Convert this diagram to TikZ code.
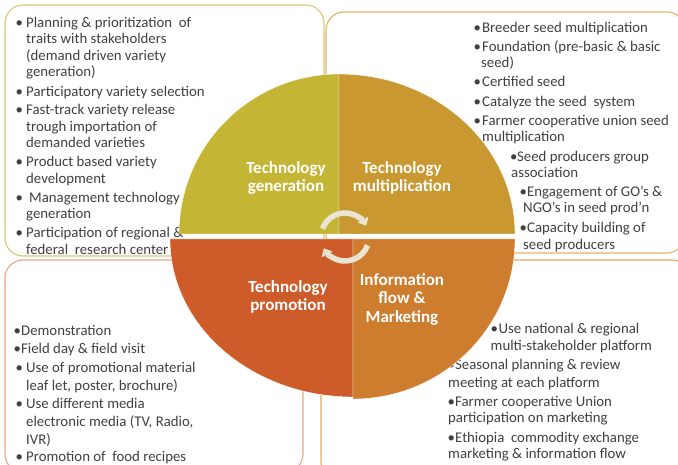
\documentclass[tikz,border=0pt]{standalone}
\usepackage{fontspec}
\setmainfont{Carlito}
\usepackage{tikz}
\usetikzlibrary{arrows.meta}

\definecolor{gencol}{HTML}{C5B535}
\definecolor{multcol}{HTML}{C99830}
\definecolor{promcol}{HTML}{CD5C2A}
\definecolor{infocol}{HTML}{CE7C2D}
\definecolor{genline}{HTML}{D8C977}
\definecolor{multline}{HTML}{E2B565}
\definecolor{promline}{HTML}{ECA486}
\definecolor{infoline}{HTML}{E8AA66}
\definecolor{turncol}{HTML}{E9E5D0}
\definecolor{textcol}{HTML}{404040}

\newcommand{\blt}[1][10.5pt]{\makebox[#1][l]{•}}

\begin{document}
\begin{tikzpicture}[x=1pt,y=-1pt,
    box/.style={rounded corners=18pt,line width=1.1pt},
    item/.style={anchor=base west,inner sep=0pt,text=textcol,font=\fontsize{14.8}{17}\selectfont},
    stage/.style={align=center,text=white,font=\fontsize{17}{18.5}\selectfont\bfseries},
    turn/.style={draw=turncol,line width=5.5pt,-{Triangle[length=7pt,width=12pt]}}]
    \useasboundingbox (0,0) rectangle (678,465);
    \clip (0,0) rectangle (678,465);
    \fill[white] (0,0) rectangle (678,465);

    \draw[box,draw=genline] (5,5) rectangle (324,256);
    \draw[box,draw=multline] (326,12) rectangle (685,253);
    \draw[box,draw=promline] (5,260) rectangle (303,472);
    \draw[box,draw=infoline] (321,260) rectangle (690,480);

    \foreach \x/\y/\t [count=\i] in {
        15.5/28/{\blt Planning \& prioritization\ \ of},
        26/44/{traits with stakeholders},
        26/61/{(demand driven variety},
        26/77/{generation)},
        15.5/97/{\blt Participatory variety selection},
        15.5/115/{\blt Fast-track variety release},
        26/132/{trough importation of},
        26/148/{demanded varieties},
        15.5/167/{\blt Product based variety},
        26/184/{development},
        15.5/203/{\blt[13.5pt]Management technology},
        26/219/{generation},
        15.5/238/{\blt Participation of regional \&},
        26/255/{federal\ \ research center}}
        \node[item] (gen\i) at (\x,\y) {\t};

    \foreach \x/\y/\t [count=\i] in {
        473.5/33/{\blt[8.5pt]Breeder seed multiplication},
        473.5/52/{\blt[8.5pt]Foundation (pre-basic \& basic},
        481/68/{seed)},
        473.5/87/{\blt[8.5pt]Certified seed},
        473.5/107/{\blt[8.5pt]Catalyze the seed\ \ system},
        473.5/126/{\blt[8.5pt]Farmer cooperative union seed},
        482/142/{multiplication},
        510/162/{\blt[7pt]Seed producers group},
        511/178/{association},
        519.5/197/{\blt[7.5pt]Engagement of GO’s \&},
        523/213/{NGO’s in seed prod’n},
        519.5/233/{\blt[7.5pt]Capacity building of},
        523/250/{seed producers}}
        \node[item] (mult\i) at (\x,\y) {\t};

    \foreach \x/\y/\t [count=\i] in {
        13.5/336/{\blt[7.5pt]Demonstration},
        13.5/354/{\blt[7.5pt]Field day \& field visit},
        15.5/372/{\blt Use of promotional material},
        26/390/{leaf let, poster, brochure)},
        15.5/408/{\blt Use different media},
        26/426/{electronic media (TV, Radio,},
        26/444/{IVR)},
        15.5/461/{\blt Promotion of\ \ food recipes}}
        \node[item] (prom\i) at (\x,\y) {\t};

    \foreach \x/\y/\t [count=\i] in {
        490.5/334/{\blt[8pt]Use national \& regional},
        490.5/351/{multi-stakeholder platform},
        447.5/370/{\blt[7.5pt]Seasonal planning \& review},
        448/387/{meeting at each platform},
        447.5/406/{\blt[7.5pt]Farmer cooperative Union},
        448/422/{participation on marketing},
        447.5/442/{\blt[7.5pt]Ethiopia\ \ commodity exchange},
        448/458/{marketing \& information flow}}
        \node[item] (info\i) at (\x,\y) {\t};

    \filldraw[gencol,draw=white] (339,234) -- (179,234) arc[start angle=180,end angle=270,radius=160] -- cycle;
    \filldraw[multcol,draw=white] (339,234) -- (339,74) arc[start angle=270,end angle=360,x radius=176,y radius=160] -- cycle;
    \filldraw[promcol,draw=white] (353,239) -- (170,239) arc[start angle=180,end angle=90,x radius=183,y radius=158] -- cycle;
    \filldraw[infocol,draw=white] (353,239) -- (515,239) arc[start angle=0,end angle=90,x radius=162,y radius=160] -- cycle;

    \node[stage] (gen) at (286,178) {Technology\\generation};
    \node[stage] (mult) at (402,178) {Technology\\multiplication};
    \node[stage] (prom) at (288,297) {Technology\\promotion};
    \node[stage] (info) at (402,299) {Information\\flow \&\\Marketing};

    \draw[turn] (345,237) ++(-160:24) arc[start angle=-160,end angle=-28,radius=24];
    \draw[turn] (345,237) ++(20:24) arc[start angle=20,end angle=152,radius=24];
\end{tikzpicture}
\end{document}
